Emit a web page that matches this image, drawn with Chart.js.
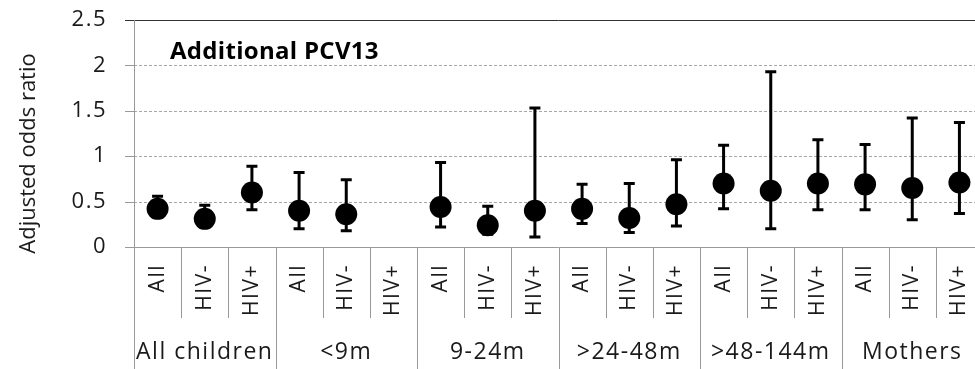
<!DOCTYPE html>
<html>
<head>
<meta charset="utf-8">
<script src="https://cdn.jsdelivr.net/npm/chart.js@4.4.1/dist/chart.umd.min.js"></script>
<style>
  html, body { margin: 0; padding: 0; background: #fff; overflow: hidden; }
  #wrap { width: 994px; height: 369px; }
</style>
</head>
<body>
<div id="wrap"><canvas id="chart" width="994" height="369"></canvas></div>
<script>
// sub-category and group labels
const subLabels = ["All", "HIV-", "HIV+", "All", "HIV-", "HIV+", "All", "HIV-", "HIV+",
                   "All", "HIV-", "HIV+", "All", "HIV-", "HIV+", "All", "HIV-", "HIV+"];
const groups = ["All children", "<9m", "9-24m", ">24-48m", ">48-144m", "Mothers"];

// adjusted odds ratio with 95% CI
const aor   = [0.42, 0.31, 0.60, 0.40, 0.36, null, 0.44, 0.24, 0.40, 0.42, 0.32, 0.47, 0.70, 0.62, 0.70, 0.69, 0.65, 0.71];
const lower = [0.33, 0.22, 0.41, 0.20, 0.18, null, 0.22, 0.14, 0.11, 0.26, 0.16, 0.23, 0.42, 0.20, 0.41, 0.41, 0.30, 0.37];
const upper = [0.56, 0.46, 0.89, 0.82, 0.74, null, 0.93, 0.45, 1.53, 0.69, 0.70, 0.96, 1.12, 1.93, 1.18, 1.13, 1.42, 1.37];

const yTicks = [0, 0.5, 1, 1.5, 2, 2.5];

const FONT = "'Open Sans', sans-serif";
const TEXT = "#1a1a1a";

// letter spacing for the regular labels (reference text is set quite loose)
const spacing = {
  id: "spacing",
  beforeDraw(chart) {
    chart.ctx.letterSpacing = "1.5px";
  }
};

// grid lines, axis lines and category separators
const frame = {
  id: "frame",
  beforeDatasetsDraw(chart) {
    const { ctx, chartArea: a, scales: { x, y } } = chart;
    ctx.save();
    ctx.lineWidth = 1;
    yTicks.forEach(v => {
      const py = Math.round(y.getPixelForValue(v)) + 0.5;
      // tick mark
      ctx.setLineDash([]);
      ctx.strokeStyle = v === 2.5 ? "#333" : "#999";
      ctx.beginPath();
      ctx.moveTo(a.left - 9, py);
      ctx.lineTo(a.left, py);
      ctx.stroke();
      if (v === 2.5 || v === 0) {
        ctx.beginPath();
        ctx.moveTo(a.left, py);
        ctx.lineTo(a.right, py);
        ctx.stroke();
      } else {
        ctx.strokeStyle = "#a6a6a6";
        ctx.setLineDash([3, 2]);
        ctx.beginPath();
        ctx.moveTo(a.left, py);
        ctx.lineTo(a.right, py);
        ctx.stroke();
      }
    });
    ctx.setLineDash([]);
    ctx.strokeStyle = "#999";
    // y axis line, running down through the label area
    ctx.beginPath();
    ctx.moveTo(Math.round(a.left) + 0.5, a.top);
    ctx.lineTo(Math.round(a.left) + 0.5, chart.height);
    ctx.stroke();
    // separators between categories / groups
    for (let i = 1; i <= subLabels.length; i++) {
      const px = Math.round(x.getPixelForValue(i - 0.5)) + 0.5;
      const bottom = i % 3 === 0 ? chart.height : a.bottom + 71;
      ctx.beginPath();
      ctx.moveTo(px, a.bottom);
      ctx.lineTo(px, bottom);
      ctx.stroke();
    }
    // error bars (drawn under the markers)
    ctx.strokeStyle = "#000";
    ctx.lineWidth = 3;
    aor.forEach((v, i) => {
      if (v === null) return;
      const px = x.getPixelForValue(i);
      const lo = y.getPixelForValue(lower[i]);
      const hi = y.getPixelForValue(upper[i]);
      ctx.beginPath();
      ctx.moveTo(px, lo);
      ctx.lineTo(px, hi);
      ctx.moveTo(px - 5.5, hi);
      ctx.lineTo(px + 5.5, hi);
      ctx.moveTo(px - 5.5, lo);
      ctx.lineTo(px + 5.5, lo);
      ctx.stroke();
    });
    ctx.restore();
  },
  afterDraw(chart) {
    const { ctx, chartArea: a, scales: { x } } = chart;
    ctx.save();
    ctx.fillStyle = TEXT;
    // group labels
    ctx.font = "23px " + FONT;
    ctx.letterSpacing = "1.5px";
    ctx.textAlign = "center";
    ctx.textBaseline = "alphabetic";
    groups.forEach((g, k) => {
      ctx.fillText(g, x.getPixelForValue(k * 3 + 1), 359);
    });
    // y axis title
    ctx.font = "22px " + FONT;
    ctx.letterSpacing = "0px";
    ctx.save();
    ctx.translate(29, (a.top + a.bottom) / 2 + 20);
    ctx.rotate(-Math.PI / 2);
    ctx.textBaseline = "middle";
    ctx.fillText("Adjusted odds ratio", 0, 0);
    ctx.restore();
    // panel title
    ctx.font = "bold 24px " + FONT;
    ctx.letterSpacing = "0.3px";
    ctx.textAlign = "left";
    ctx.fillStyle = "#000";
    ctx.fillText("Additional PCV13", a.left + 36, 59);
    ctx.restore();
  }
};

new Chart(document.getElementById("chart"), {
  type: "line",
  data: {
    labels: subLabels,
    datasets: [{
      data: aor,
      showLine: false,
      pointRadius: 11,
      pointHoverRadius: 11,
      pointBackgroundColor: "#000",
      pointBorderColor: "#000",
      pointBorderWidth: 0
    }]
  },
  options: {
    responsive: false,
    animation: false,
    events: [],
    layout: { padding: 0 },
    plugins: { legend: { display: false }, tooltip: { enabled: false }, title: { display: false } },
    scales: {
      x: {
        type: "category",
        offset: true,
        grid: { display: false, drawTicks: false },
        border: { display: false },
        ticks: {
          autoSkip: false,
          minRotation: 90,
          maxRotation: 90,
          padding: 17,
          color: TEXT,
          font: { family: FONT, size: 21 }
        },
        afterFit(s) {
          s.height = 122;
          s.paddingLeft = 0;
          s.paddingRight = 2;
        }
      },
      y: {
        min: 0,
        max: 2.5,
        afterBuildTicks(s) { s.ticks = yTicks.map(v => ({ value: v })); },
        grid: { display: false, drawTicks: false },
        border: { display: false },
        ticks: {
          padding: 27,
          color: TEXT,
          font: { family: FONT, size: 22 },
          callback: v => String(v)
        },
        afterFit(s) {
          s.width = 134;
          s.paddingTop = 20;
          s.paddingBottom = 0;
        }
      }
    }
  },
  plugins: [spacing, frame]
});
</script>
</body>
</html>
